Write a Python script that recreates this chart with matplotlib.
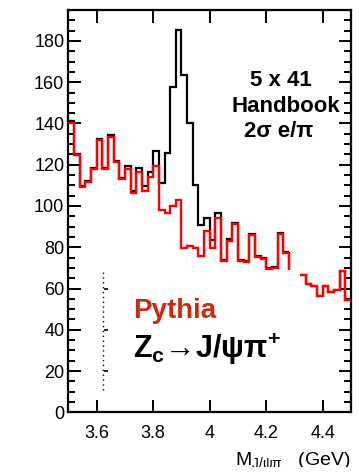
import numpy as np
import matplotlib
matplotlib.use("Agg")
import matplotlib.pyplot as plt
from matplotlib.patches import Rectangle
from matplotlib import font_manager

# binning: 50 bins of 20 MeV from 3.5 to 4.5 GeV
edges = np.linspace(3.5, 4.5, 51)

# black: before e/pi cut, red: Pythia after 2 sigma e/pi cut (bins 39, 40 empty)
black_vals = [141, 125, 109.5, 112, 118.5, 132.5, 118.5, 134.5, 122, 113.5,
              119.5, 107.5, 118.5, 109.5, 116.5, 126.5, 111, 125.5, 157.5, 185.5,
              163.5, 140, 110, 91, 94, 83.5, 96.5, 74, 84, 92,
              74, 73.5, 86.5, 76, 75, 70, 70.5, 87, 77.5, np.nan,
              np.nan, 66.5, 62, 61, 56.5, 61, 58.5, 59.5, 68.5, 54.5]
red_vals = [140, 124.5, 109, 111.5, 118, 132, 118, 133.5, 121.5, 113,
            118, 106.5, 116.5, 107.5, 114, 119.5, 98, 96.5, 100, 103,
            79.5, 80.5, 79.5, 76, 88, 79.5, 94, 73.5, 83, 91.5,
            73.5, 73, 86, 75.5, 74.5, 69.5, 70, 86.5, 77, np.nan,
            np.nan, 66.5, 62, 61, 56.5, 61, 58.5, 59.5, 68.5, 54.5]
gap_drop = 69  # where the line stops before the empty bins

xticks = [3.6, 3.8, 4.0, 4.2, 4.4]
xticklabels = ["3.6", "3.8", "4", "4.2", "4.4"]
yticks = list(range(0, 181, 20))


def have(name):
    try:
        font_manager.findfont(font_manager.FontProperties(family=name), fallback_to_default=False)
        return True
    except Exception:
        return False


narrow = "Liberation Sans Narrow" if have("Liberation Sans Narrow") else "Liberation Sans"

plt.rcParams["font.family"] = ["Liberation Sans", "DejaVu Sans"]
plt.rcParams["mathtext.fontset"] = "custom"
plt.rcParams["mathtext.rm"] = "Liberation Sans"
plt.rcParams["mathtext.bf"] = narrow + ":bold"
plt.rcParams["mathtext.it"] = "Liberation Sans:italic"

fig = plt.figure(figsize=(3.59, 4.76), dpi=100)
ax = fig.add_axes([0.1908, 0.1338, 0.7869, 0.8452])

black = np.array(black_vals, dtype=float)
red = np.array(red_vals, dtype=float)

ax.stairs(black, edges, baseline=None, color="black", lw=1.6, zorder=2)
ax.vlines(edges[39], gap_drop, black[38], color="black", lw=1.6, zorder=2)
ax.stairs(red, edges, baseline=None, color="#ff0000", lw=1.7, zorder=3)
ax.vlines(edges[39], gap_drop, red[38], color="#ff0000", lw=1.7, zorder=3)

# stray dotted marker
ax.plot([3.621, 3.621], [11, 68], color="black", lw=1.0, ls=(0, (1, 2.5)))
ax.hlines([20, 40, 60], 3.624, 3.640, color="black", lw=1.2)

ax.set_xlim(3.5, 4.5)
ax.set_ylim(0, 195)
ax.set_xticks(xticks)
ax.set_xticklabels(xticklabels)
ax.set_yticks(yticks)
ax.set_yticks(np.arange(0, 195, 5), minor=True)
ax.tick_params(axis="both", which="both", direction="in", top=True, right=True,
               width=1.4, labelsize=13)
ax.tick_params(axis="both", which="major", length=9)
ax.tick_params(axis="y", which="minor", length=5)
ax.tick_params(axis="x", which="major", pad=9)
ax.tick_params(axis="y", which="major", pad=3)
for s in ax.spines.values():
    s.set_linewidth(1.6)

ax.text(0.752, 0.811, "5 x 41", transform=ax.transAxes, ha="center", va="baseline",
        fontsize=16, fontweight="bold")
ax.text(0.768, 0.747, "Handbook", transform=ax.transAxes, ha="center", va="baseline",
        fontsize=16, fontweight="bold")
ax.text(0.745, 0.685, "2σ e/π", transform=ax.transAxes, ha="center", va="baseline",
        fontsize=16, fontweight="bold", family=["Liberation Sans", "DejaVu Sans"])

ax.text(0.228, 0.234, "Pythia", transform=ax.transAxes, ha="left", va="baseline",
        fontsize=20, fontweight="bold", color="#cc2a10", family=[narrow, "DejaVu Sans"])
ax.text(0.228, 0.135, r"Z$_{\mathbf{c}}$→J/ψπ$^{\mathbf{+}}$", transform=ax.transAxes,
        ha="left", va="baseline", fontsize=22, fontweight="bold",
        family=[narrow, "Liberation Sans", "DejaVu Sans"])

fig.text(351 / 359, 1 - 466 / 476, r"M$_{\mathrm{J/\psi\pi}}$   (GeV)", ha="right",
         va="baseline", fontsize=14)
fig.add_artist(Rectangle((0, 0), 1, 9 / 476, transform=fig.transFigure,
                         facecolor="white", edgecolor="none", zorder=10))

fig.savefig("out.png", dpi=100)
